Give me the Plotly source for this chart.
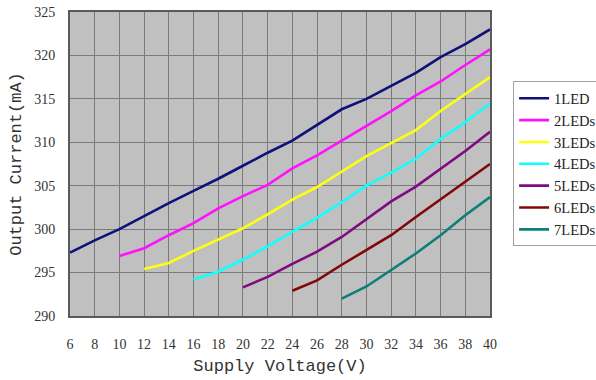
import plotly.graph_objects as go

voltages = [6, 8, 10, 12, 14, 16, 18, 20, 22, 24, 26, 28, 30, 32, 34, 36, 38, 40]

series_names = ["1LED", "2LEDs", "3LEDs", "4LEDs", "5LEDs", "6LEDs", "7LEDs"]
series_colors = ["#10107a", "#ff10ff", "#ffff10", "#10ffff", "#800a80", "#800808", "#0a8078"]
series_start_v = [6, 10, 12, 16, 20, 24, 28]

led1 = [297.3, 298.7, 300.0, 301.5, 303.0, 304.4, 305.8, 307.3, 308.8, 310.2, 312.0, 313.8, 315.0, 316.5, 318.0, 319.8, 321.3, 323.0]
led2 = [296.9, 297.8, 299.3, 300.7, 302.4, 303.8, 305.1, 307.0, 308.5, 310.2, 311.8, 313.6, 315.4, 317.0, 318.9, 320.7]
led3 = [295.4, 296.1, 297.5, 298.8, 300.1, 301.7, 303.4, 304.85, 306.6, 308.4, 309.9, 311.4, 313.6, 315.6, 317.5]
led4 = [294.2, 295.1, 296.5, 298.0, 299.7, 301.3, 303.1, 305.0, 306.5, 308.1, 310.4, 312.3, 314.5]
led5 = [293.3, 294.5, 296.0, 297.4, 299.1, 301.1, 303.2, 304.9, 306.9, 309.0, 311.2]
led6 = [292.9, 294.1, 295.9, 297.6, 299.3, 301.4, 303.4, 305.5, 307.5]
led7 = [292.0, 293.4, 295.3, 297.2, 299.3, 301.6, 303.7]

series_values = [led1, led2, led3, led4, led5, led6, led7]

fig = go.Figure()
for name, color, start, vals in zip(series_names, series_colors, series_start_v, series_values):
    i0 = voltages.index(start)
    xs = voltages[i0:i0 + len(vals)]
    fig.add_trace(go.Scatter(x=xs, y=vals, mode="lines", name=name,
                             line=dict(color=color, width=2.6)))

axis_font = dict(family="Liberation Serif", size=14, color="#333333")
title_font = dict(family="Liberation Mono", size=17, color="#333333")

fig.update_layout(
    width=596, height=380,
    margin=dict(l=70, r=106, t=12, b=64, autoexpand=False),
    paper_bgcolor="white",
    plot_bgcolor="#c0c0c0",
    showlegend=True,
    legend=dict(
        x=1.055, y=0.772, xanchor="left", yanchor="top",
        bgcolor="white", bordercolor="#a0a0a0", borderwidth=1,
        font=dict(family="Liberation Serif", size=14.5, color="#222222"),
        tracegroupgap=0,
    ),
    xaxis=dict(
        range=[6, 40], tickmode="array", tickvals=voltages,
        ticktext=[str(v) for v in voltages],
        showgrid=True, gridcolor="#7a7a7a", gridwidth=1,
        showline=True, linecolor="#5a5a5a", linewidth=2, mirror=True,
        ticks="", tickfont=axis_font, ticklabelstandoff=14,
        zeroline=False, automargin=False,
        title=dict(text="Supply Voltage(V)", font=title_font, standoff=8),
    ),
    yaxis=dict(
        range=[290, 325], dtick=5, tick0=290,
        showgrid=True, gridcolor="#7a7a7a", gridwidth=1,
        showline=True, linecolor="#5a5a5a", linewidth=2, mirror=True,
        ticks="", tickfont=axis_font, ticklabelstandoff=10,
        zeroline=False, automargin=False,
        title=dict(text="Output Current(mA)", font=title_font, standoff=8),
    ),
)

fig.write_html("out.html")
